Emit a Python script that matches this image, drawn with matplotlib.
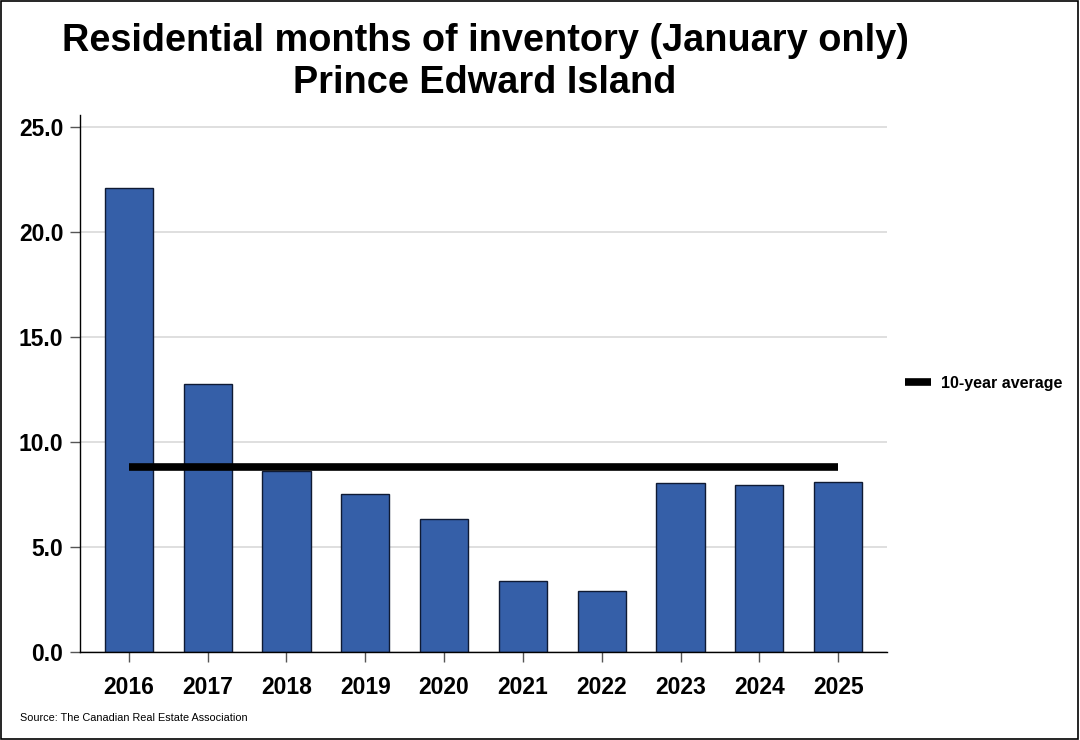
import matplotlib
matplotlib.use("Agg")
import matplotlib.pyplot as plt
import numpy as np
from matplotlib.lines import Line2D

plt.rcParams['font.family'] = ['Liberation Sans', 'DejaVu Sans']

years = ['2016', '2017', '2018', '2019', '2020', '2021', '2022', '2023', '2024', '2025']
months_inventory = [22.1, 12.75, 8.6, 7.5, 6.33, 3.37, 2.9, 8.05, 7.95, 8.1]
ten_year_avg = 8.8

bar_color = '#355FA8'
edge_color = '#0F1A33'

fig = plt.figure(figsize=(10.8, 7.4), dpi=100)
ax = fig.add_axes([80 / 1080, 88 / 740, 807 / 1080, 537 / 740])

x = np.arange(len(years))
ax.bar(x, months_inventory, width=0.61, color=bar_color, edgecolor=edge_color,
       linewidth=1.0, zorder=2)
ax.plot([x[0], x[-1]], [ten_year_avg, ten_year_avg], color='black', lw=5.5,
        solid_capstyle='butt', zorder=3)

ax.set_xlim(-0.62, len(years) - 1 + 0.62)
ax.set_ylim(0, 25.57)
ax.set_yticks([0, 5, 10, 15, 20, 25])
ax.set_yticklabels(['0.0', '5.0', '10.0', '15.0', '20.0', '25.0'])
ax.set_xticks(x)
ax.set_xticklabels(years)
ax.yaxis.grid(True, color='#d9d9d9', lw=1.2, zorder=0)
ax.set_axisbelow(True)

for lbl in ax.get_xticklabels() + ax.get_yticklabels():
    lbl.set_fontweight('bold')
    lbl.set_fontsize(16.5)
ax.tick_params(axis='both', direction='out', length=7, width=1, color='#555555')
ax.tick_params(axis='x', pad=10)
ax.tick_params(axis='y', pad=5)

ax.spines['top'].set_visible(False)
ax.spines['right'].set_visible(False)
for s in ['left', 'bottom']:
    ax.spines[s].set_color('black')
    ax.spines[s].set_linewidth(1)

fig.text(485 / 1080, 1 - 41 / 740, 'Residential months of inventory (January only)',
         ha='center', va='center', fontsize=27.3, fontweight='bold')
fig.text(485 / 1080, 1 - 83 / 740, 'Prince Edward Island',
         ha='center', va='center', fontsize=27.3, fontweight='bold')

handle = Line2D([], [], color='black', lw=5.5, solid_capstyle='butt')
fig.legend([handle], ['10-year average'], loc='center left',
           bbox_to_anchor=(891 / 1080, 1 - 383 / 740), frameon=False,
           prop={'weight': 'bold', 'size': 11.5}, handlelength=1.6, handletextpad=0.6)

fig.text(20 / 1080, 1 - 718 / 740, 'Source: The Canadian Real Estate Association',
         ha='left', va='center', fontsize=7.8)

fig.patches.append(plt.Rectangle((0.0005, 0.0008), 0.998, 0.998, transform=fig.transFigure,
                                 fill=False, edgecolor='black', lw=1.2))

fig.savefig('out.png', dpi=100)
